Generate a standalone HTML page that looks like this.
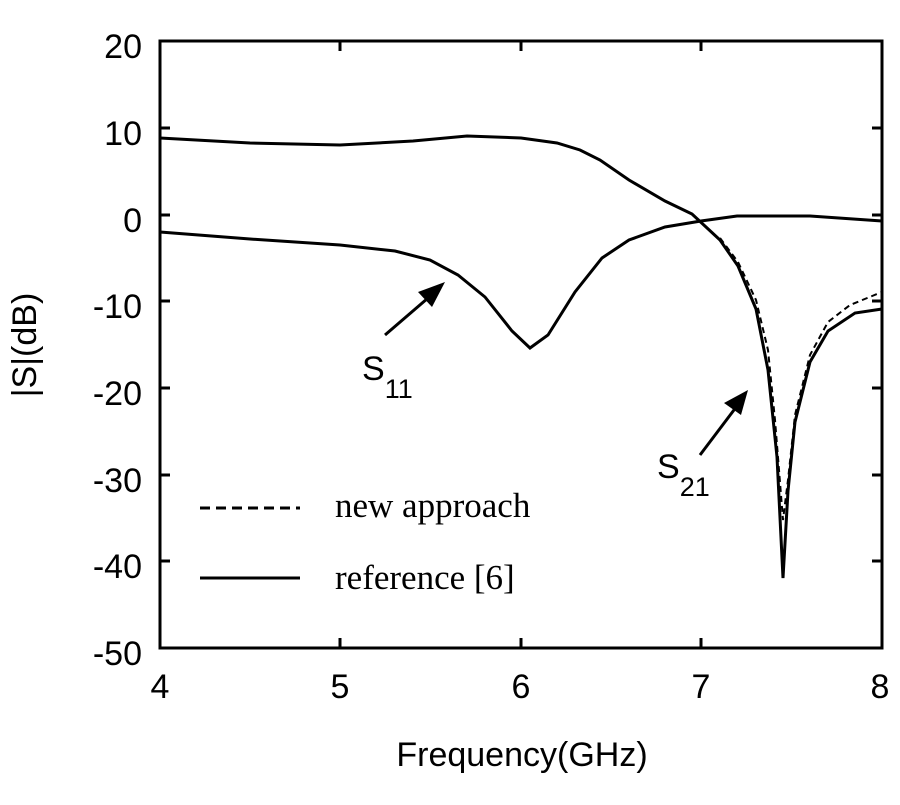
<!DOCTYPE html>
<html><head><style>body{margin:0;background:#fff}</style></head><body>
<svg width="900" height="800" xmlns="http://www.w3.org/2000/svg" font-family="Liberation Sans, sans-serif">
<rect x="0" y="0" width="900" height="800" fill="#fff"/>
<g stroke="#000" stroke-width="3" fill="none">
<rect x="160" y="41" width="722" height="607"/>
<path d="M340,648v-10M521,648v-10M701,648v-10M340,41v10M521,41v10M701,41v10"/>
<path d="M160,128h10M160,215h10M160,301h10M160,388h10M160,475h10M160,561h10M882,128h-10M882,215h-10M882,301h-10M882,388h-10M882,475h-10M882,561h-10"/>
</g>
<g fill="none" stroke="#000" stroke-width="3">
<polyline points="160,138 250,143 340,145 413,141 467,136 521,138 557,143 580,150 600,160 629,180 665,201 692,214 720,240 738,266 756,309 768,370 777,457 783,578 788,491 795,422 810,362 828,331 855,313 882,309"/>
<polyline points="160,232 250,239 340,245 395,251 430,260 458,275 485,297 512,331 530,348 548,335 575,292 602,258 629,240 665,227 701,221 737,216 810,216 882,221"/>
<polyline stroke-width="2" stroke-dasharray="6,4" points="720,238 738,262 756,300 768,350 775,420 779,470 783,520 788,480 795,415 810,355 828,322 850,305 882,292"/>
<line x1="200" y1="508" x2="300" y2="508" stroke-dasharray="10,6"/>
<line x1="200" y1="578" x2="300" y2="578"/>
<line x1="385" y1="335" x2="435" y2="292"/>
<line x1="700" y1="455" x2="740" y2="402"/>
</g>
<polygon points="445,282 418,292 432,307" fill="#000"/>
<polygon points="748,390 724,403 741,415" fill="#000"/>
<g font-size="34" fill="#000" text-anchor="end">
<text x="142" y="58">20</text><text x="142" y="145">10</text><text x="142" y="232">0</text>
<text x="142" y="318">-10</text><text x="142" y="405">-20</text><text x="142" y="492">-30</text>
<text x="142" y="578">-40</text><text x="142" y="665">-50</text>
</g>
<g font-size="34" fill="#000" text-anchor="middle">
<text x="160" y="698">4</text><text x="340" y="698">5</text><text x="521" y="698">6</text><text x="701" y="698">7</text><text x="880" y="698">8</text>
<text x="522" y="766">Frequency(GHz)</text>
<text transform="translate(36,345) rotate(-90)">|S|(dB)</text>
</g>
<text x="362" y="380" font-size="34">S<tspan font-size="27" dy="18">11</tspan></text>
<text x="657" y="478" font-size="34">S<tspan font-size="27" dy="18">21</tspan></text>
<g font-family="Liberation Serif, serif" font-size="35">
<text x="335" y="517">new approach</text>
<text x="335" y="589">reference [6]</text>
</g>
</svg>
</body></html>
